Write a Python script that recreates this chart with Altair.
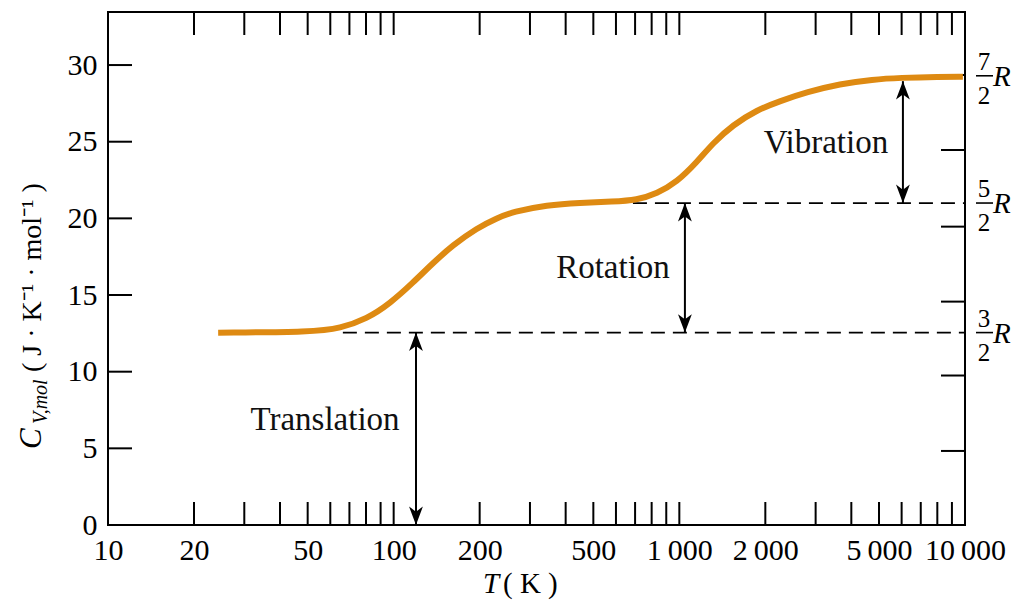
import altair as alt
import pandas as pd

# ---------------- data ----------------
T_K = [24.3, 52.2, 64.9, 80.6, 97.1, 116.8, 137.3, 161.3, 195.7, 229.9, 261.6,
       344.1, 448.8, 585.7, 710.6, 834.8, 980.9, 1152.6, 1311, 1540, 1869, 2249,
       2797, 3649, 4760, 5916, 8167, 9830]
CV = [12.54, 12.6, 12.83, 13.45, 14.45, 15.8, 17.09, 18.26, 19.37, 20.02, 20.43,
      20.87, 21.02, 21.09, 21.2, 21.62, 22.37, 23.67, 24.91, 26.09, 27.07, 27.65,
      28.24, 28.77, 29.06, 29.17, 29.24, 29.24]

X_LABEL_VALUES = [10, 20, 50, 100, 200, 500, 1000, 2000, 5000, 10000]
X_LABEL_TEXT = ["10", "20", "50", "100", "200", "500",
                "1\u2009000", "2\u2009000", "5\u2009000", "10\u2009000"]
X_TICKS = [20, 30, 40, 50, 60, 70, 80, 90, 100, 200, 300, 400, 500, 600, 700,
           800, 900, 1000, 2000, 3000, 4000, 5000, 6000, 7000, 8000, 9000]
Y_LABEL_VALUES = [0, 5, 10, 15, 20, 25, 30]
Y_TICKS_LEFT = [5, 10, 15, 20, 25, 30]
Y_TICKS_RIGHT = [4.83, 9.75, 14.57, 19.46, 24.46, 29.35]

# plateau levels (3/2 R, 5/2 R, 7/2 R)
LEVEL_NUM = ["3", "5", "7"]
LEVEL_VAL = [12.55, 21.0, 29.3]
DASH_START = [66.4, 688]          # dashed lines for 3/2 R and 5/2 R
DASH_LEVEL = [12.55, 21.0]

ARROW_NAME = ["Translation", "Rotation", "Vibration"]
ARROW_T = [119.7, 1046, 6063]
ARROW_LO = [0.0, 12.55, 21.0]
ARROW_HI = [12.55, 21.0, 28.95]
LABEL_T = [57.5, 585.7, 3259]
LABEL_CV = [6.2, 16.1, 24.26]

Y_TITLE_PARTS = ["C", "V,mol", "( J \u00b7 K\u207b\u00b9 \u00b7 mol\u207b\u00b9 )"]
X_TITLE_PARTS = ["T", "( K )"]
R_SYMBOL = "R"
DENOM = "2"

# ---------------- styling ----------------
FONT = "Liberation Serif"
ORANGE = "#DE8A12"
W, H = 857, 513

label_expr = " : ".join(f"datum.value == {v} ? '{t}'" for v, t in zip(X_LABEL_VALUES, X_LABEL_TEXT)) + " : datum.label"

XS = alt.Scale(type="log", domain=[10, 10000], nice=False)
YS = alt.Scale(domain=[0, 33.46], nice=False, zero=False)

x_axis = alt.Axis(values=X_LABEL_VALUES, labelExpr=label_expr, title=None, ticks=False,
                  tickSize=0, domain=False, grid=False, labelFont=FONT, labelFontSize=30,
                  labelPadding=10, labelFlush=False, labelOverlap=False, labelColor="black")
y_axis = alt.Axis(values=Y_LABEL_VALUES, title=None, ticks=False, tickSize=0, domain=False,
                  grid=False, labelFont=FONT, labelFontSize=30, labelPadding=11,
                  labelFlush=False, labelOverlap=False, labelColor="black", labelBaseline="middle")


def X(field="x"):
    return alt.X(f"{field}:Q", scale=XS, axis=x_axis)


def Y(field="y"):
    return alt.Y(f"{field}:Q", scale=YS, axis=y_axis)


layers = []
curve_df = pd.DataFrame({"x": T_K, "y": CV})

# inward ticks
xt = pd.DataFrame({"x": X_TICKS})
layers.append(alt.Chart(xt).mark_rule(color="black", strokeWidth=2).encode(
    x=X(), y=alt.value(H), y2=alt.value(H - 23)))
layers.append(alt.Chart(xt).mark_rule(color="black", strokeWidth=2).encode(
    x=X(), y=alt.value(0), y2=alt.value(23)))
ytl = pd.DataFrame({"y": Y_TICKS_LEFT})
layers.append(alt.Chart(ytl).mark_rule(color="black", strokeWidth=2).encode(
    y=Y(), x=alt.value(0), x2=alt.value(24)))
ytr = pd.DataFrame({"y": Y_TICKS_RIGHT})
layers.append(alt.Chart(ytr).mark_rule(color="black", strokeWidth=2).encode(
    y=Y(), x=alt.value(W), x2=alt.value(W - 24)))

# dashed plateau lines
dash_df = pd.DataFrame({"x": DASH_START, "x2": [10000] * len(DASH_START), "y": DASH_LEVEL})
layers.append(alt.Chart(dash_df).mark_rule(color="black", strokeWidth=1.8, strokeDash=[14, 8]).encode(
    x=X(), x2="x2:Q", y=Y()))

# curve
layers.append(alt.Chart(curve_df).mark_line(color=ORANGE, strokeWidth=6, interpolate="basis",
                                            strokeCap="butt").encode(x=X(), y=Y()))

# arrows
arr_df = pd.DataFrame({"x": ARROW_T, "y": ARROW_LO, "y2": ARROW_HI})
layers.append(alt.Chart(arr_df).mark_rule(color="black", strokeWidth=2).encode(
    x=X(), y=Y(), y2="y2:Q"))
up_head = "M0,0L0.75,2L0,1.45L-0.75,2Z"
down_head = "M0,0L0.75,-2L0,-1.45L-0.75,-2Z"
layers.append(alt.Chart(pd.DataFrame({"x": ARROW_T, "y": ARROW_HI})).mark_point(
    shape=up_head, filled=True, size=340, color="black", opacity=1, strokeWidth=0).encode(x=X(), y=Y()))
layers.append(alt.Chart(pd.DataFrame({"x": ARROW_T, "y": ARROW_LO})).mark_point(
    shape=down_head, filled=True, size=340, color="black", opacity=1, strokeWidth=0).encode(x=X(), y=Y()))

# annotation labels
lab_df = pd.DataFrame({"x": LABEL_T, "y": LABEL_CV, "t": ARROW_NAME})
layers.append(alt.Chart(lab_df).mark_text(font=FONT, fontSize=33, color="#111", align="center",
                                          baseline="alphabetic").encode(x=X(), y=Y(), text="t:N"))

# right-hand fraction labels
frac_df = pd.DataFrame({"y": LEVEL_VAL, "num": LEVEL_NUM,
                        "den": [DENOM] * 3, "r": [R_SYMBOL] * 3})
layers.append(alt.Chart(frac_df).mark_text(font=FONT, fontSize=25, color="black", align="center",
                                           baseline="middle", dy=-14).encode(
    y=Y(), x=alt.value(W + 19), text="num:N"))
layers.append(alt.Chart(frac_df).mark_text(font=FONT, fontSize=25, color="black", align="center",
                                           baseline="middle", dy=20).encode(
    y=Y(), x=alt.value(W + 19), text="den:N"))
layers.append(alt.Chart(frac_df).mark_rule(color="black", strokeWidth=1.6).encode(
    y=Y(), x=alt.value(W + 11), x2=alt.value(W + 28)))
layers.append(alt.Chart(frac_df).mark_text(font=FONT, fontSize=29, fontStyle="italic", color="black",
                                           align="left", baseline="middle", dy=1).encode(
    y=Y(), x=alt.value(W + 28), text="r:N"))

# y-axis title pieces (rotated)
one = pd.DataFrame({"k": [0]})
layers.append(alt.Chart(one).mark_text(font=FONT, fontSize=31, fontStyle="italic", angle=270,
                                       align="left", baseline="alphabetic", color="black").encode(
    x=alt.value(-67), y=alt.value(437), text=alt.value(Y_TITLE_PARTS[0])))
layers.append(alt.Chart(one).mark_text(font=FONT, fontSize=20, fontStyle="italic", angle=270,
                                       align="left", baseline="alphabetic", color="black").encode(
    x=alt.value(-61), y=alt.value(412), text=alt.value(Y_TITLE_PARTS[1])))
layers.append(alt.Chart(one).mark_text(font=FONT, fontSize=28, angle=270,
                                       align="left", baseline="alphabetic", color="black").encode(
    x=alt.value(-67), y=alt.value(360), text=alt.value(Y_TITLE_PARTS[2])))

# x-axis title pieces
layers.append(alt.Chart(one).mark_text(font=FONT, fontSize=29, fontStyle="italic",
                                       align="left", baseline="alphabetic", color="black").encode(
    x=alt.value(375), y=alt.value(581), text=alt.value(X_TITLE_PARTS[0])))
layers.append(alt.Chart(one).mark_text(font=FONT, fontSize=29,
                                       align="left", baseline="alphabetic", color="black").encode(
    x=alt.value(395), y=alt.value(581), text=alt.value(X_TITLE_PARTS[1])))

chart = alt.layer(*layers).properties(
    width=W, height=H,
    autosize=alt.AutoSizeParams(type="none"),
    padding={"left": 100, "top": 4, "right": 48, "bottom": 75},
    background="white",
).configure_view(stroke="black", strokeWidth=2)

chart.save("out.html", embed_options={"renderer": "svg", "actions": False})
